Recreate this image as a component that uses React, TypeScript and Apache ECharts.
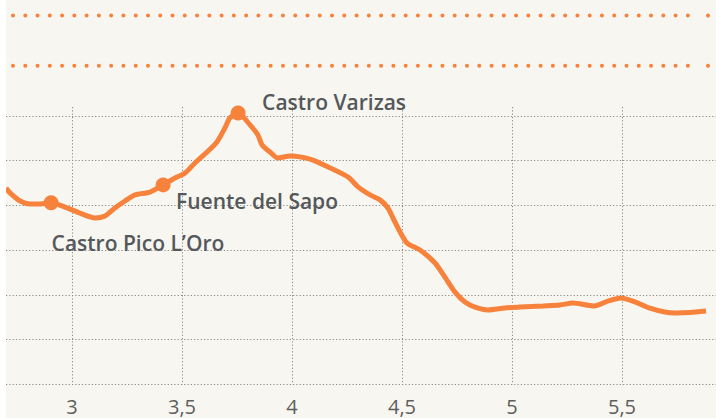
import React, { useEffect, useRef } from "react";
import * as echarts from "echarts";

const distanceKm = [2.700, 2.718, 2.764, 2.809, 2.855, 2.905, 2.968, 3.036, 3.105, 3.150, 3.195, 3.241, 3.286, 3.355, 3.414, 3.468, 3.514, 3.559, 3.614, 3.659, 3.695, 3.718, 3.755, 3.809, 3.845, 3.864, 3.900, 3.936, 3.991, 4.036, 4.095, 4.173, 4.255, 4.300, 4.355, 4.400, 4.436, 4.459, 4.491, 4.523, 4.582, 4.650, 4.695, 4.741, 4.786, 4.832, 4.891, 4.968, 5.036, 5.141, 5.218, 5.277, 5.373, 5.436, 5.495, 5.559, 5.623, 5.695, 5.745, 5.809, 5.882];
const elevation = [787.8, 785.6, 782.0, 780.7, 780.7, 781.2, 779.3, 776.6, 774.4, 775.3, 778.9, 782.0, 784.7, 786.0, 789.2, 792.3, 794.5, 799.0, 803.9, 808.4, 814.6, 819.1, 821.3, 816.0, 811.5, 807.0, 803.9, 801.2, 802.1, 801.7, 800.3, 796.8, 792.7, 788.3, 784.7, 782.5, 778.9, 774.4, 768.2, 763.2, 760.1, 754.3, 748.0, 741.3, 736.9, 734.6, 733.3, 734.2, 734.6, 735.1, 735.5, 736.4, 735.1, 737.3, 738.7, 736.9, 734.2, 732.4, 732.0, 732.2, 732.8];

const placeNames = ["Castro Pico L\u2019Oro", "Fuente del Sapo", "Castro Varizas"];
const placeKm = [2.905, 3.414, 3.755];
const placeElevation = [781.2, 789.2, 821.3];
const placeLabelOffsets = [[-12, 40], [0.5, 16], [11.5, -11.5]];

const ORANGE = "#f7823c";

export default function App() {
  const ref = useRef<HTMLDivElement>(null);
  useEffect(() => {
    if (!ref.current) return;
    const chart = echarts.init(ref.current, null, { renderer: "svg" });
    const dotLine = (y: number) => ({
      type: "line",
      silent: true,
      shape: { x1: 7, y1: y, x2: 7 + 56 * 12.27, y2: y },
      style: { stroke: ORANGE, lineWidth: 4, lineDash: [0, 12.27], lineCap: "round" },
    });
    const endDot = (y: number) => ({
      type: "circle",
      silent: true,
      shape: { cx: 702, cy: y, r: 2 },
      style: { fill: ORANGE },
    });
    chart.setOption({
      animation: false,
      backgroundColor: "#f7f6f0",
      grid: { left: 0, right: 0, top: 107, bottom: 33.5 },
      graphic: [dotLine(15.5), endDot(15.5), dotLine(65.7), endDot(65.7)],
      xAxis: {
        type: "value",
        min: 2.7,
        max: 2.7 + 710 / 220,
        minInterval: 0.5,
        maxInterval: 0.5,
        axisLine: { show: false },
        axisTick: { show: false },
        axisLabel: {
          showMinLabel: false,
          showMaxLabel: false,
          margin: 12,
          fontSize: 20,
          lineHeight: 20,
          color: "#5d5e60",
          fontFamily: "Open Sans",
          formatter: (v: number) => String(v).replace(".", ","),
        },
        splitLine: {
          show: true,
          showMinLine: false,
          showMaxLine: false,
          lineStyle: { color: "#8a8a8a", type: [1.2, 2.1], width: 1 },
        },
      },
      yAxis: {
        type: "value",
        min: 700,
        max: 824,
        minInterval: 20,
        maxInterval: 20,
        axisLine: { show: false },
        axisTick: { show: false },
        axisLabel: { show: false },
        splitLine: {
          show: true,
          showMaxLine: false,
          lineStyle: { color: "#8a8a8a", type: [1.2, 2.1], width: 1 },
        },
      },
      series: [
        {
          type: "line",
          data: distanceKm.map((d, i) => [d, elevation[i]]),
          smooth: 0.25,
          showSymbol: false,
          lineStyle: { color: ORANGE, width: 5 },
          silent: true,
        },
        {
          type: "scatter",
          symbolSize: 15,
          itemStyle: { color: ORANGE, opacity: 1 },
          data: placeNames.map((n, i) => ({
            name: n,
            value: [placeKm[i], placeElevation[i]],
            label: { offset: placeLabelOffsets[i] },
          })),
          label: {
            show: true,
            position: "right",
            formatter: (p: any) => p.name,
            fontSize: 21,
            fontWeight: 600,
            fontFamily: "Open Sans",
            color: "#55585b",
          },
          z: 5,
        },
      ],
    });
    return () => chart.dispose();
  }, []);
  return (
    <div style={{ position: "absolute", left: 6, top: 0, width: 710, height: 418 }}>
      <div ref={ref} style={{ width: 710, height: 418 }} />
    </div>
  );
}
